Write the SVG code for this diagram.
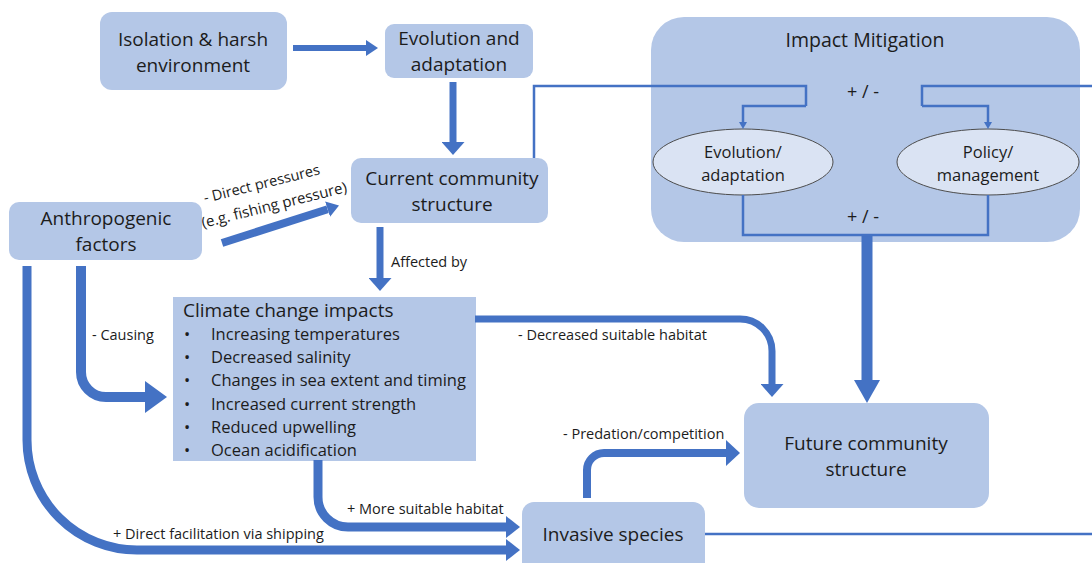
<svg xmlns="http://www.w3.org/2000/svg" width="1092" height="563" viewBox="0 0 1092 563">
  <style>
    .box { fill: #b4c7e7; }
    .oval { fill: #dae3f3; stroke: #4d4d4d; stroke-width: 1; }
    .t { font-family: "Open Sans", "Noto Sans", "Liberation Sans", sans-serif; fill: #1c1c1c; }
    .node { font-size: 19px; text-anchor: middle; }
    .ov { font-size: 16.5px; text-anchor: middle; }
    .item { font-size: 16.5px; }
    .lbl { font-size: 14.5px; }
    .pm { font-size: 18px; text-anchor: middle; }
    .thick { fill: none; stroke: #4472c4; stroke-linejoin: round; }
    .thin { fill: none; stroke: #4472c4; stroke-width: 2.5; }
  </style>
  <defs>
    <marker id="hA" viewBox="0 0 10 10" refX="0" refY="5" markerUnits="userSpaceOnUse" markerWidth="12" markerHeight="16" preserveAspectRatio="none" orient="auto">
      <path d="M0,0 L10,5 L0,10 z" fill="#4472c4"/>
    </marker>
    <marker id="hB" viewBox="0 0 10 10" refX="0" refY="5" markerUnits="userSpaceOnUse" markerWidth="13" markerHeight="23" preserveAspectRatio="none" orient="auto">
      <path d="M0,0 L10,5 L0,10 z" fill="#4472c4"/>
    </marker>
    <marker id="hC" viewBox="0 0 10 10" refX="0" refY="5" markerUnits="userSpaceOnUse" markerWidth="14" markerHeight="22" preserveAspectRatio="none" orient="auto">
      <path d="M0,0 L10,5 L0,10 z" fill="#4472c4"/>
    </marker>
    <marker id="hD" viewBox="0 0 10 10" refX="0" refY="5" markerUnits="userSpaceOnUse" markerWidth="22" markerHeight="32" preserveAspectRatio="none" orient="auto">
      <path d="M0,0 L10,5 L0,10 z" fill="#4472c4"/>
    </marker>
    <marker id="hE" viewBox="0 0 10 10" refX="0" refY="5" markerUnits="userSpaceOnUse" markerWidth="23" markerHeight="26" preserveAspectRatio="none" orient="auto">
      <path d="M0,0 L10,5 L0,10 z" fill="#4472c4"/>
    </marker>
    <marker id="hF" viewBox="0 0 10 10" refX="0" refY="5" markerUnits="userSpaceOnUse" markerWidth="14" markerHeight="26" preserveAspectRatio="none" orient="auto">
      <path d="M0,0 L10,5 L0,10 z" fill="#4472c4"/>
    </marker>
    <marker id="hT" viewBox="0 0 10 10" refX="0" refY="5" markerUnits="userSpaceOnUse" markerWidth="7" markerHeight="8" preserveAspectRatio="none" orient="auto">
      <path d="M0,0 L10,5 L0,10 z" fill="#4472c4"/>
    </marker>
  </defs>

  <rect width="1092" height="563" fill="#ffffff"/>

  <g id="isolation">
    <rect class="box" x="100" y="12" width="187" height="78" rx="12"/>
    <text class="t node" x="193" y="46">Isolation &amp; harsh</text>
    <text class="t node" x="193" y="72">environment</text>
  </g>

  <g id="evolution-adaptation">
    <rect class="box" x="385" y="24" width="148" height="54" rx="9"/>
    <text class="t node" x="459" y="45">Evolution and</text>
    <text class="t node" x="459" y="71">adaptation</text>
  </g>

  <g id="current-community">
    <rect class="box" x="351" y="158" width="197" height="65" rx="10"/>
    <text class="t node" x="452" y="185">Current community</text>
    <text class="t node" x="452" y="211">structure</text>
  </g>

  <g id="anthropogenic">
    <rect class="box" x="9" y="202" width="193" height="58" rx="10"/>
    <text class="t node" x="106" y="225">Anthropogenic</text>
    <text class="t node" x="106" y="251">factors</text>
  </g>

  <g id="impact-mitigation">
    <rect class="box" x="651" y="17" width="429" height="225" rx="33"/>
    <text class="t node" style="font-size:19.5px" x="865" y="47">Impact Mitigation</text>
    <text class="t pm" x="863" y="98">+ / -</text>
    <text class="t pm" x="863" y="223">+ / -</text>
  </g>

  <g id="mitigation-evolution">
    <ellipse class="oval" cx="743" cy="162" rx="90" ry="33"/>
    <text class="t ov" x="743" y="158">Evolution/</text>
    <text class="t ov" x="743" y="181">adaptation</text>
  </g>

  <g id="mitigation-policy">
    <ellipse class="oval" cx="988" cy="162" rx="91" ry="33"/>
    <text class="t ov" x="988" y="158">Policy/</text>
    <text class="t ov" x="988" y="181">management</text>
  </g>

  <g id="climate-change">
    <rect class="box" x="173" y="297" width="303" height="164"/>
    <text class="t" style="font-size:19px" x="183" y="317">Climate change impacts</text>
    <g class="t item">
      <text x="184" y="340">•</text><text x="211" y="340">Increasing temperatures</text>
      <text x="184" y="363">•</text><text x="211" y="363">Decreased salinity</text>
      <text x="184" y="386">•</text><text x="211" y="386">Changes in sea extent and timing</text>
      <text x="184" y="410">•</text><text x="211" y="410">Increased current strength</text>
      <text x="184" y="433">•</text><text x="211" y="433">Reduced upwelling</text>
      <text x="184" y="456">•</text><text x="211" y="456">Ocean acidification</text>
    </g>
  </g>

  <g id="future-community">
    <rect class="box" x="744" y="403" width="245" height="105" rx="15"/>
    <text class="t node" x="866" y="450">Future community</text>
    <text class="t node" x="866" y="476">structure</text>
  </g>

  <g id="invasive-species">
    <rect class="box" x="522" y="502" width="183" height="72" rx="12"/>
    <text class="t node" x="613" y="541">Invasive species</text>
  </g>

  <g id="connectors">
    <!-- thick flow arrows -->
    <path class="thick" style="stroke-width:6" d="M293,48 H366" marker-end="url(#hA)"/>
    <path class="thick" style="stroke-width:7" d="M453,82 V142" marker-end="url(#hB)"/>
    <path class="thick" style="stroke-width:8" d="M222,243 L327.6,209.2" marker-end="url(#hA)"/>
    <path class="thick" style="stroke-width:7" d="M380,227 V278" marker-end="url(#hB)"/>
    <path class="thick" style="stroke-width:10" d="M81,266 V372 A25,25 0 0 0 106,397 H145" marker-end="url(#hD)"/>
    <path class="thick" style="stroke-width:9" d="M27,266 V440 A110,110 0 0 0 137,550 H506" marker-end="url(#hC)"/>
    <path class="thick" style="stroke-width:7" d="M475,319 H740 A32,32 0 0 1 772,351 V384" marker-end="url(#hB)"/>
    <path class="thick" style="stroke-width:9" d="M318,460 V497 A30,30 0 0 0 348,527 H506" marker-end="url(#hC)"/>
    <path class="thick" style="stroke-width:8" d="M587,498 V470 A17,17 0 0 1 604,453 H726" marker-end="url(#hF)"/>
    <path class="thick" style="stroke-width:11" d="M867,235 V380" marker-end="url(#hE)"/>

    <!-- thin feedback lines -->
    <path class="thin" d="M534,158 V86 H806 V106"/>
    <path class="thin" d="M1092,86 H922 V106"/>
    <path class="thin" d="M806,106 H743 V122" marker-end="url(#hT)"/>
    <path class="thin" d="M922,106 H988 V122" marker-end="url(#hT)"/>
    <path class="thin" d="M743,195 V235 H988 V195"/>
    <path class="thin" d="M705,534 H1092"/>

    <!-- connector labels -->
    <text class="t lbl" x="205" y="203" transform="rotate(-14 205 203)">- Direct pressures</text>
    <text class="t lbl" style="font-size:15px" x="203" y="228" transform="rotate(-14 203 228)">(e.g. fishing pressure)</text>
    <text class="t lbl" x="391" y="267">Affected by</text>
    <text class="t lbl" x="92" y="340">- Causing</text>
    <text class="t lbl" x="518" y="340">- Decreased suitable habitat</text>
    <text class="t lbl" x="347" y="514">+ More suitable habitat</text>
    <text class="t lbl" x="113" y="539">+ Direct facilitation via shipping</text>
    <text class="t lbl" x="563" y="439">- Predation/competition</text>
  </g>
</svg>
